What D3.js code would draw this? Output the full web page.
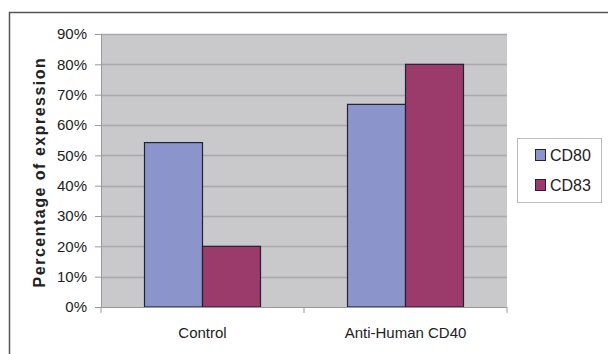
<!DOCTYPE html>
<html><head><meta charset="utf-8">
<script src="https://cdn.jsdelivr.net/npm/d3@7"></script>
<style>body{margin:0;background:#fff}svg{display:block}text{font-family:"Liberation Sans",Arial,sans-serif}</style>
</head><body><svg id="c" width="608" height="354"></svg>
<script>
const categories = ["Control", "Anti-Human CD40"];
const seriesNames = ["CD80", "CD83"];
const cd80 = [54.2, 66.8];
const cd83 = [20, 80];
const yTicks = [0,10,20,30,40,50,60,70,80,90];
const colors = ["#8c95cb", "#9b3b6b"];

const svg = d3.select("#c");
svg.append("rect").attr("x",0).attr("y",0).attr("width",608).attr("height",354).attr("fill","#fff");
// outer border
svg.append("path").attr("d","M9.5,354V12.5H608").attr("fill","none").attr("stroke","#555").attr("stroke-width",1.5);

const L=101, R=507, T=34, B=307;
const x0 = d3.scaleBand().domain(categories).range([L,R]).paddingInner(0).paddingOuter(0);
const x1 = d3.scaleBand().domain(seriesNames).range([0,x0.bandwidth()]).paddingInner(0).paddingOuter(0.75);
const y = d3.scaleLinear().domain([0,90]).range([B,T]);

svg.append("rect").attr("x",L).attr("y",T).attr("width",R-L).attr("height",B-T).attr("fill","#c9c9cb");
// gridlines
svg.append("g").selectAll("line").data(yTicks.slice(1)).join("line")
 .attr("x1",L).attr("x2",R).attr("y1",d=>Math.round(y(d))+0.5).attr("y2",d=>Math.round(y(d))+0.5)
 .attr("stroke","#a9a9ab").attr("stroke-width",1.5);

const data = categories.map((c,i)=>({c, vals:[cd80[i],cd83[i]]}));
const g = svg.append("g");
data.forEach(d=>{
  g.selectAll(null).data(d.vals).join("rect")
   .attr("x",(v,j)=>x0(d.c)+x1(seriesNames[j]))
   .attr("y",v=>y(v))
   .attr("width",x1.bandwidth())
   .attr("height",v=>B-y(v))
   .attr("fill",(v,j)=>colors[j])
   .attr("stroke","#222233").attr("stroke-width",1.2);
});

// y axis
const ya = d3.axisLeft(y).tickValues(yTicks).tickFormat(d=>d+"%").tickSize(6).tickPadding(8);
const yg = svg.append("g").attr("transform",`translate(${L},0)`).call(ya);
yg.select(".domain").attr("stroke","#999");
yg.selectAll(".tick line").attr("stroke","#999");
yg.selectAll("text").attr("font-size",15).attr("fill","#222");

// x axis
const xg = svg.append("g").attr("transform",`translate(0,${B})`);
xg.append("line").attr("x1",L).attr("x2",R).attr("y1",0.5).attr("y2",0.5).attr("stroke","#999");
xg.selectAll("line.t").data([L, L+x0.bandwidth(), R]).join("line").attr("class","t")
 .attr("x1",d=>d).attr("x2",d=>d).attr("y1",0).attr("y2",6).attr("stroke","#999");
xg.selectAll("text").data(categories).join("text")
 .attr("x",d=>x0(d)+x0.bandwidth()/2).attr("y",31).attr("text-anchor","middle")
 .attr("font-size",15).attr("fill","#222").text(d=>d);

// y title
svg.append("text").attr("transform","translate(45,172) rotate(-90)").attr("text-anchor","middle")
 .attr("font-size",16).attr("font-weight","bold").attr("letter-spacing","1.5px").attr("fill","#222")
 .text("Percentage of expression");

// legend
const lg = svg.append("g");
lg.append("rect").attr("x",517.5).attr("y",138.5).attr("width",84).attr("height",64).attr("fill","#fff").attr("stroke","#bbb");
seriesNames.forEach((s,i)=>{
  lg.append("rect").attr("x",535.5).attr("y",149.5+i*30).attr("width",10).attr("height",11)
    .attr("fill",colors[i]).attr("stroke","#222233");
  lg.append("text").attr("x",550).attr("y",161+i*30).attr("font-size",16).attr("fill","#222").text(s);
});
</script></body></html>
